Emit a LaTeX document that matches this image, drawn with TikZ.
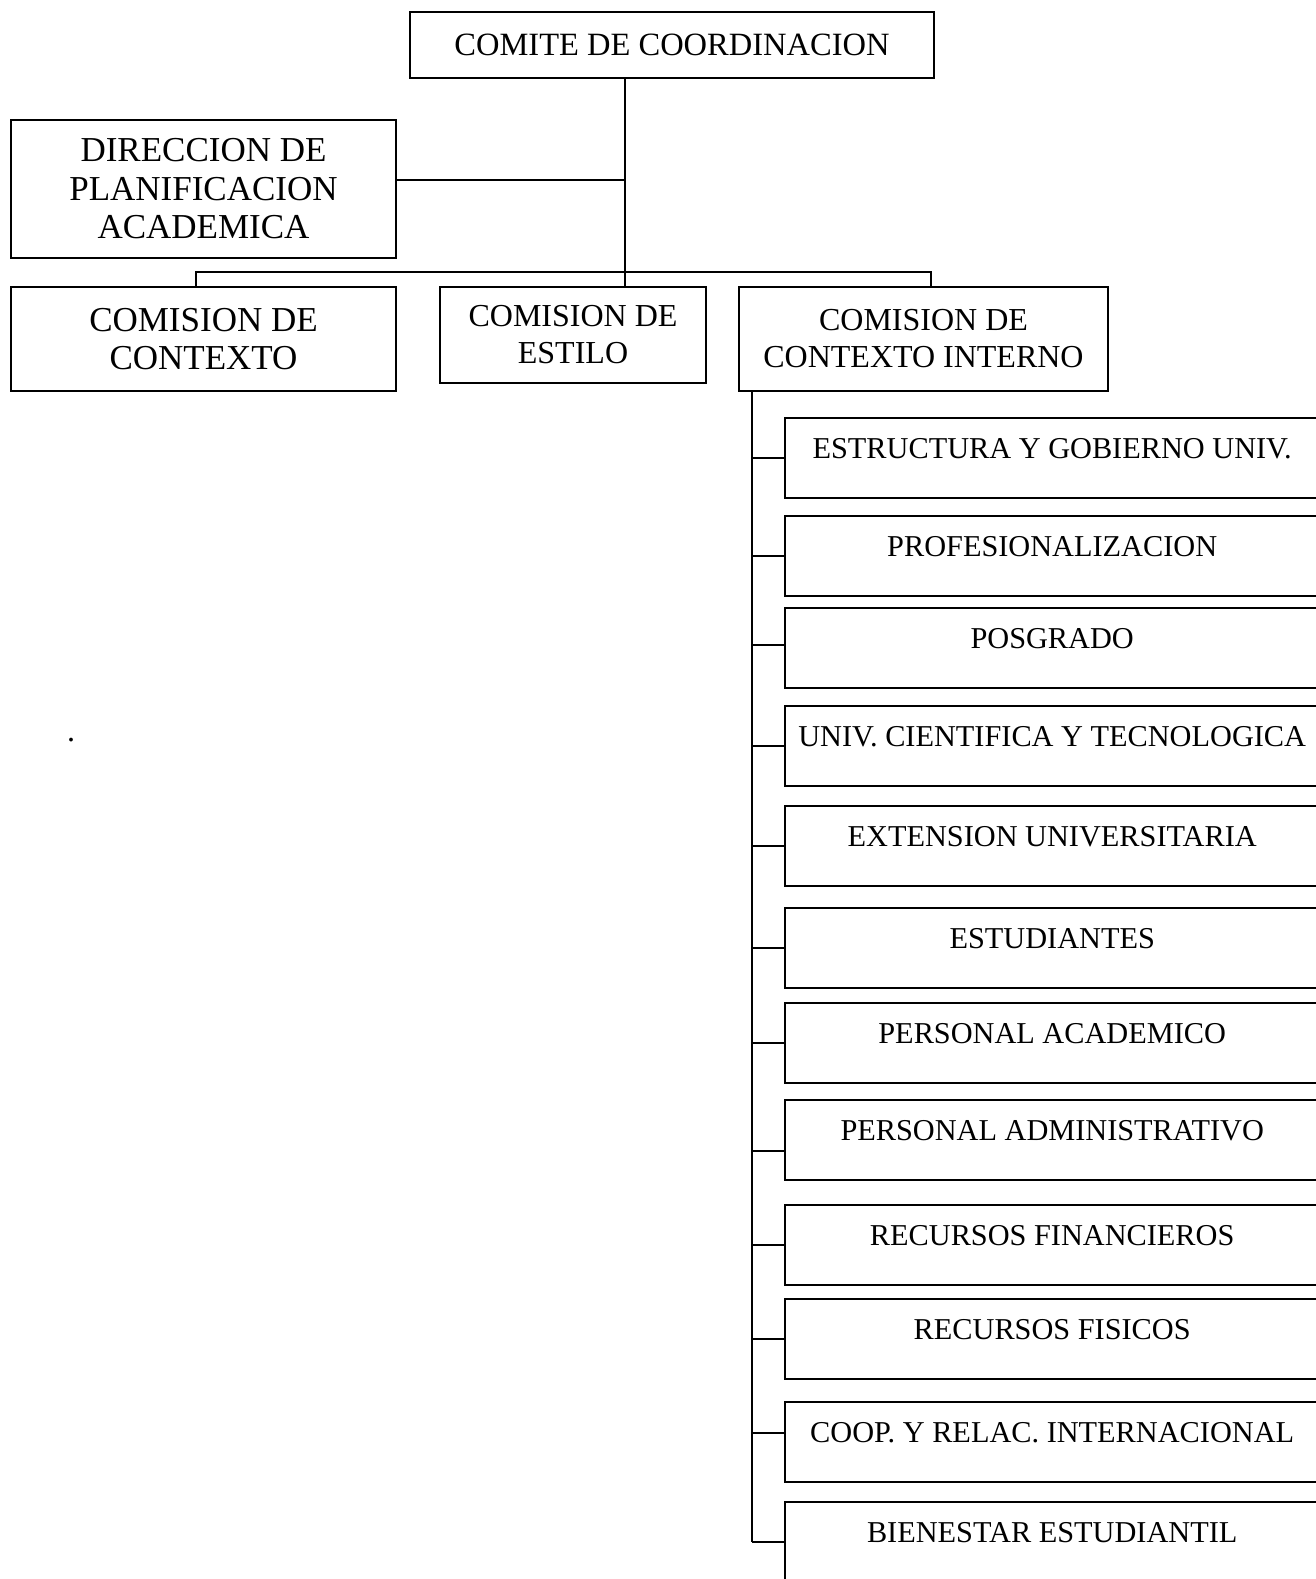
\documentclass[tikz,border=0pt]{standalone}
\usepackage{fontspec}
\setmainfont{Liberation Serif}

\begin{document}
\begin{tikzpicture}[x=1pt,y=-1pt,
  box/.style={draw, line width=2.4pt, inner sep=0pt, align=center},
  bigbox/.style={box, font=\fontsize{35}{38.5}\selectfont},
  midbox/.style={box, font=\fontsize{32}{37}\selectfont},
  subbox/.style={draw, line width=2.4pt, inner sep=0pt, text height=40pt, text depth=40pt, anchor=west, font=\fontsize{30.3}{36}\selectfont},
  link/.style={line width=2pt}]
\useasboundingbox (0,0) rectangle (1316,1579);
\clip (0,0) rectangle (1316,1579);

\node[midbox, minimum width=524, minimum height=66, font=\fontsize{32.5}{37}\selectfont] (comite) at (672,45) {COMITE DE COORDINACION};
\node[bigbox, minimum width=385, minimum height=138] (direccion) at (203.5,189) {DIRECCION DE\\PLANIFICACION\\ACADEMICA};

\node[bigbox, minimum width=385, minimum height=104] (contexto) at (203.5,339) {COMISION DE\\CONTEXTO};
\node[midbox, minimum width=266, minimum height=96] (estilo) at (573,335) {COMISION DE\\ESTILO};
\node[midbox, minimum width=369, minimum height=104] (interno) at (923.5,339) {COMISION DE\\CONTEXTO INTERNO};

\node[font=\fontsize{32}{37}\selectfont, anchor=base] (punto) at (71,741) {.};

\coordinate (hub) at (625,180); % branch to the left box
\coordinate (bus) at (625,272); % line over the three commissions
\coordinate (spine) at ([xshift=14]interno.south west);

\draw[link] (hub |- comite.south) -- (hub |- estilo.north);
\draw[link] (direccion.east |- hub) -- (hub);
\draw[line width=1.6pt] ([xshift=-7.5]contexto.north) |- (bus) -| ([xshift=7.5]interno.north);

% column of sub commissions
\foreach \name/\y/\tick/\txt in {
  b1/458/0/{ESTRUCTURA Y GOBIERNO UNIV.},
  b2/556/0/{PROFESIONALIZACION},
  b3/648/3/{POSGRADO},
  b4/746/0/{UNIV. CIENTIFICA Y TECNOLOGICA},
  b5/846/0/{EXTENSION UNIVERSITARIA},
  b6/948/0/{ESTUDIANTES},
  b7/1043/0/{PERSONAL ACADEMICO},
  b8/1140/-11/{PERSONAL ADMINISTRATIVO},
  b9/1245/0/{RECURSOS FINANCIEROS},
  b10/1339/0/{RECURSOS FISICOS},
  b11/1442/9/{COOP. Y RELAC. INTERNACIONAL},
  b12/1542/0/{BIENESTAR ESTUDIANTIL}}{
  \node[subbox] (\name) at (784,\y) {\makebox[534pt]{\txt}\hspace*{60pt}};
  \draw[link] ([yshift=\tick]\name.west) -- ([yshift=\tick]\name.west -| spine);
}
\draw[link] (spine) -- (spine |- b12.west);
\end{tikzpicture}
\end{document}
